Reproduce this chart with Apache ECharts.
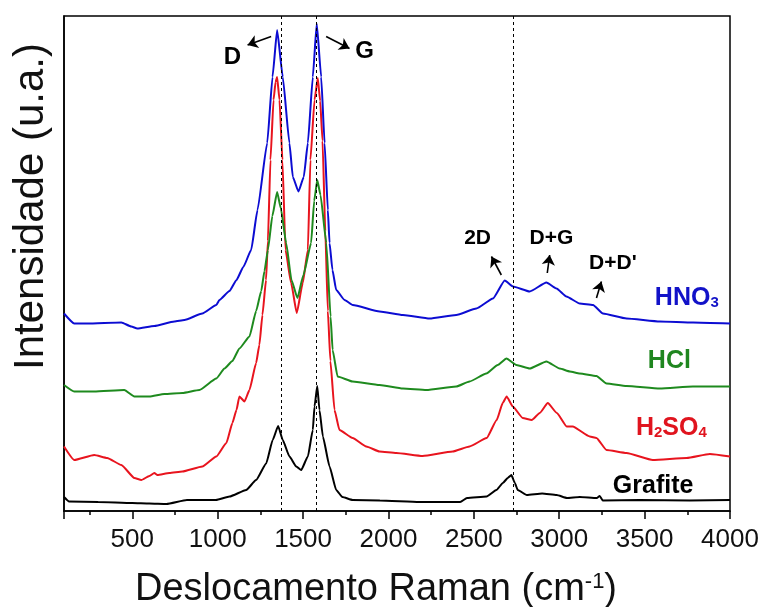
<!DOCTYPE html>
<html><head><meta charset="utf-8">
<script src="https://cdn.jsdelivr.net/npm/echarts@6/dist/echarts.min.js"></script>
<style>html,body{margin:0;padding:0;background:#fff}#c{width:763px;height:607px}</style>
</head><body><div id="c"></div>
<script>
// Raman spectra, [Raman shift (cm-1), intensity (a.u., vertically offset)]
const grafite = [[100,28],[130,19],[300,18],[500,16],[600,15],[700,14],[820,22],[990,22],[1070,29],[1167,42],[1225,62],[1284,95],[1322,142],[1354,170],[1381,142],[1420,109],[1460,89],[1489,82],[1528,109],[1557,162],[1567,209],[1583,250],[1596,202],[1616,149],[1655,89],[1694,42],[1730,28],[1790,22],[1950,21],[2180,18],[2420,18],[2460,26],[2575,29],[2632,42],[2670,56],[2698,66],[2720,72],[2740,56],[2757,42],[2810,32],[2900,35],[2985,32],[3045,26],[3120,28],[3220,26],[3237,30],[3255,21],[3470,22],[3765,21],[4000,22]];
const h2so4 = [[100,129],[160,102],[277,112],[353,106],[436,92],[512,66],[553,62],[600,70],[629,76],[647,72],[717,76],[793,79],[910,89],[992,109],[1051,136],[1086,176],[1110,202],[1127,229],[1157,219],[1186,242],[1225,296],[1244,332],[1262,392],[1283,462],[1294,540],[1309,702],[1327,822],[1339,858],[1348,868],[1362,822],[1379,702],[1397,522],[1430,456],[1463,396],[1498,456],[1528,522],[1543,702],[1567,822],[1586,866],[1600,820],[1614,740],[1630,560],[1645,400],[1660,300],[1684,202],[1713,162],[1790,146],[1870,129],[1948,119],[2046,116],[2200,110],[2376,119],[2475,129],[2575,146],[2634,182],[2669,216],[2692,229],[2728,209],[2786,186],[2839,182],[2886,196],[2933,216],[2986,196],[3044,169],[3079,169],[3179,149],[3218,146],[3277,122],[3394,116],[3548,102],[3746,106],[3882,114],[4000,109]];
const hcl = [[100,252],[160,239],[277,239],[453,242],[512,229],[600,229],[688,234],[793,236],[893,242],[992,265],[1040,285],[1086,300],[1127,325],[1186,349],[1225,400],[1255,440],[1274,480],[1294,522],[1320,590],[1348,638],[1370,605],[1401,536],[1432,462],[1467,426],[1502,472],[1547,536],[1565,620],[1583,662],[1602,632],[1636,536],[1661,389],[1673,322],[1702,269],[1790,259],[1948,252],[2085,245],[2222,242],[2397,249],[2475,259],[2573,275],[2640,292],[2691,305],[2749,292],[2827,285],[2925,299],[3003,285],[3062,279],[3120,275],[3218,270],[3277,255],[3394,250],[3589,245],[3783,249],[4000,249]];
const hno3 = [[100,395],[160,375],[236,375],[436,377],[494,369],[529,365],[629,370],[746,379],[805,382],[910,395],[992,412],[1010,422],[1069,440],[1110,462],[1150,488],[1196,522],[1233,602],[1290,736],[1321,868],[1348,962],[1381,868],[1420,736],[1440,668],[1473,639],[1504,668],[1528,736],[1557,868],[1580,975],[1606,868],[1626,736],[1645,602],[1655,536],[1672,482],[1694,442],[1743,422],[1791,412],[1948,399],[2085,392],[2241,385],[2397,392],[2515,405],[2612,425],[2681,461],[2729,449],[2827,439],[2925,457],[2984,445],[3042,429],[3120,415],[3198,412],[3256,395],[3394,385],[3589,379],[3784,377],[4000,375]];

const bandPositions = [1370, 1577, 2729];
const peakNames = ['D', 'G', '2D', 'D+G', "D+D'"];
const peakLabelX = [1086, 1860, 2522, 2954, 3314];
const peakLabelY = [908, 919, 546, 546, 496];
const arrowFrom = [[1313,949],[1635,949],[2661,472],[2930,476],[3218,426]];
const arrowTo = [[1175,932],[1772,925],[2603,509],[2944,512],[3247,459]];
const sampleNames = ['{b|HNO}{s|3}', '{b|HCl}', '{b|H}{s|2}{b|SO}{s|4}', '{b|Grafite}'];
const sampleColors = ['#1212c8', '#1f861f', '#e0141e', '#000000'];
const sampleLabelX = [3560, 3519, 3449, 3314];
const sampleLabelY = [426, 299, 166, 50];

const FONT = '"Liberation Sans", Arial, sans-serif';
const chart = echarts.init(document.getElementById('c'), null, {renderer: 'canvas'});

function lineSeries(name, data, color) {
  return {name, type: 'line', data, showSymbol: false, symbol: 'none',
    smooth: 0.15, smoothMonotone: 'x',
    lineStyle: {color, width: 2}, z: 3};
}

const peakData = peakNames.map((n, i) => ({
  value: [peakLabelX[i], peakLabelY[i]], name: n,
  label: {show: true, position: 'inside', formatter: n, opacity: 1,
    fontFamily: FONT, fontWeight: 'bold', color: '#000',
    fontSize: i < 2 ? 24 : 21}
}));
const sampleData = sampleNames.map((n, i) => ({
  value: [sampleLabelX[i], sampleLabelY[i]],
  label: {show: true, position: 'right', distance: 0, formatter: n, opacity: 1,
    rich: {
      b: {fontFamily: FONT, fontWeight: 'bold', fontSize: 25, color: sampleColors[i]},
      s: {fontFamily: FONT, fontWeight: 'bold', fontSize: 15, color: sampleColors[i], verticalAlign: 'bottom'}
    }}
}));

chart.setOption({
  animation: false,
  backgroundColor: '#fff',
  grid: {left: 64, right: 33, top: 16, bottom: 96, show: true, borderColor: '#000', borderWidth: 1.5, outerBoundsMode: 'none'},
  xAxis: {
    type: 'value', min: 100, max: 4000, splitNumber: 8,
    axisLine: {show: true, lineStyle: {color: '#000', width: 1.5}},
    axisTick: {show: true, inside: false, length: 8, lineStyle: {color: '#000', width: 1.5}},
    minorTick: {show: true, splitNumber: 2, length: 4, lineStyle: {color: '#000', width: 1.5}},
    splitLine: {show: false}, minorSplitLine: {show: false},
    axisLabel: {showMinLabel: false, fontFamily: FONT, fontSize: 26, color: '#111', margin: 16,
      formatter: v => String(v)},
    name: '{t|Deslocamento Raman (cm}{sup|-1}{t|)}',
    nameLocation: 'middle', nameGap: 60,
    nameTextStyle: {padding: [0, 42, 0, 0], rich: {
      t: {fontFamily: FONT, fontSize: 38, color: '#111'},
      sup: {fontFamily: FONT, fontSize: 22, color: '#111', verticalAlign: 'top'}
    }}
  },
  yAxis: {
    type: 'value', min: 0, max: 990,
    axisLine: {show: true, lineStyle: {color: '#000', width: 1.5}},
    axisTick: {show: false}, axisLabel: {show: false}, splitLine: {show: false},
    name: 'Intensidade (u.a.)', nameLocation: 'middle', nameGap: 12,
    nameTextStyle: {fontFamily: FONT, fontSize: 42, color: '#111', padding: [0, 0, 0, 114], verticalAlign: 'bottom'}
  },
  series: [
    lineSeries('Grafite', grafite, '#000000'),
    lineSeries('H2SO4', h2so4, '#e8141e'),
    lineSeries('HCl', hcl, '#1e8a1e'),
    lineSeries('HNO3', hno3, '#0c0cd2'),
    {type: 'scatter', name: 'peaks', data: peakData, symbolSize: 0, z: 5,
      itemStyle: {opacity: 1},
      markLine: {silent: true, symbol: ['none', 'arrow'], symbolSize: 10,
        label: {show: false},
        lineStyle: {color: '#000', width: 1.6, type: 'solid'},
        data: arrowFrom.map((f, i) => [{coord: f}, {coord: arrowTo[i]}])}},
    {type: 'scatter', name: 'samples', data: sampleData, symbolSize: 0, z: 5,
      itemStyle: {opacity: 1},
      markLine: {silent: true, symbol: ['none', 'none'], label: {show: false},
        lineStyle: {color: '#000', width: 1, type: [3, 3]},
        data: bandPositions.map(v => ({xAxis: v}))}}
  ]
});
</script></body></html>
